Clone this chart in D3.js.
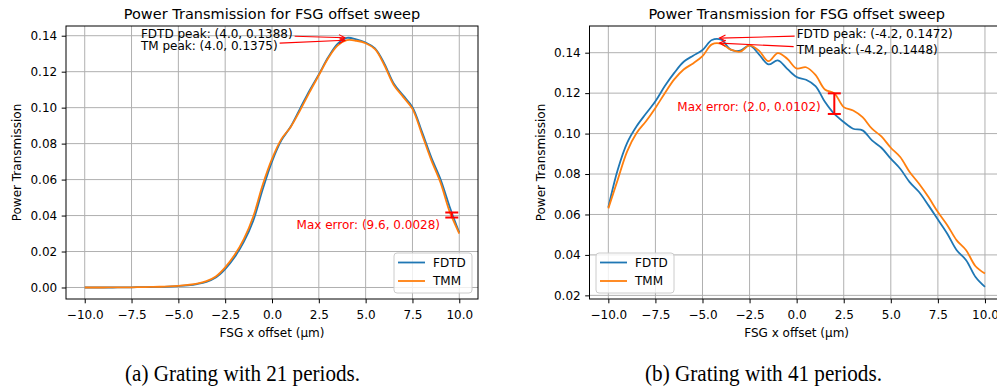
<!DOCTYPE html>
<html>
<head>
<meta charset="utf-8">
<script src="https://cdn.jsdelivr.net/npm/d3@7"></script>
<style>
body { margin: 0; background: #fff; }
svg text { font-family: "DejaVu Sans", sans-serif; }
</style>
</head>
<body>
<script>
// sweep values (x offset in um)
var offsetsA = [-10, -9.5, -9, -8.5, -8, -7.5, -7, -6.5, -6, -5.5, -5, -4.5, -4, -3.5, -3, -2.5, -2, -1.5, -1, -0.5,
                0, 0.5, 1, 1.5, 2, 2.5, 3, 3.5, 4, 4.5, 5, 5.5, 6, 6.5, 7, 7.5, 8, 8.5, 9, 9.5, 10];
var fdtdA = [0.0000, 0.0000, 0.0000, 0.0000, 0.0001, 0.0001, 0.0002, 0.0002, 0.0003, 0.0005,
             0.0008, 0.0012, 0.0019, 0.0031, 0.0055, 0.0102, 0.0168, 0.0255, 0.0372, 0.0545,
             0.0700, 0.0818, 0.0895, 0.0995, 0.1095, 0.1185, 0.1280, 0.1355, 0.1388, 0.1380,
             0.1362, 0.1330, 0.1245, 0.1135, 0.1068, 0.1003, 0.0868, 0.0725, 0.0602, 0.0445, 0.0305];
var tmmA = [0.0000, 0.0000, 0.0000, 0.0001, 0.0001, 0.0001, 0.0002, 0.0003, 0.0004, 0.0006,
            0.0009, 0.0014, 0.0021, 0.0035, 0.0061, 0.0112, 0.0180, 0.0270, 0.0395, 0.0570,
            0.0715, 0.0825, 0.0893, 0.0985, 0.1085, 0.1180, 0.1275, 0.1345, 0.1375, 0.1372,
            0.1358, 0.1325, 0.1236, 0.1126, 0.1060, 0.0993, 0.0854, 0.0710, 0.0583, 0.0418, 0.0300];

var offsetsB = offsetsA;
var fdtdB = [0.0635, 0.0821, 0.0954, 0.1036, 0.1099, 0.1160, 0.1235, 0.1300, 0.1355, 0.1385,
             0.1413, 0.1463, 0.1464, 0.1415, 0.1410, 0.1436, 0.1392, 0.1342, 0.1362, 0.1320,
             0.1280, 0.1266, 0.1235, 0.1157, 0.1097, 0.1057, 0.1024, 0.1016, 0.0966, 0.0930,
             0.0876, 0.0826, 0.0760, 0.0711, 0.0645, 0.0575, 0.0505, 0.0423, 0.0374, 0.0291, 0.0242];
var tmmB = [0.0630, 0.0772, 0.0912, 0.1003, 0.1061, 0.1127, 0.1200, 0.1268, 0.1317, 0.1347,
            0.1383, 0.1441, 0.1444, 0.1415, 0.1405, 0.1436, 0.1410, 0.1358, 0.1398, 0.1370,
            0.1322, 0.1328, 0.1290, 0.1218, 0.1199, 0.1131, 0.1114, 0.1081, 0.1024, 0.0986,
            0.0930, 0.0884, 0.0810, 0.0752, 0.0686, 0.0612, 0.0547, 0.0472, 0.0423, 0.0344, 0.0308];

// peaks [x, fdtd, tmm] and max error [x, fdtd, tmm]
var peakA = [4.0, 0.1388, 0.1375],
    peakB = [-4.2, 0.1472, 0.1448],
    maxErrA = [9.6, 0.0417, 0.0389],
    maxErrB = [2.0, 0.1097, 0.1199];

var xTicks = [-10, -7.5, -5, -2.5, 0, 2.5, 5, 7.5, 10],
    yTicksA = [0, 0.02, 0.04, 0.06, 0.08, 0.10, 0.12, 0.14],
    yTicksB = [0.02, 0.04, 0.06, 0.08, 0.10, 0.12, 0.14];

var seriesNames = ["FDTD", "TMM"],
    seriesColors = ["#1f77b4", "#ff7f0e"];

var titleText = "Power Transmission for FSG offset sweep",
    xLabel = "FSG x offset (\u00b5m)",
    yLabel = "Power Transmission",
    captions = ["(a) Grating with 21 periods.", "(b) Grating with 41 periods."];

// set up canvas
var canvasWidth = 997,
    canvasHeight = 387,
    plotTop = 26,
    plotBottom = 299;

var figure = d3.select("body")
    .append("svg")
        .attr("width", canvasWidth)
        .attr("height", canvasHeight);

function drawPanel(p) {
    var x = d3.scaleLinear().domain([-11, 11]).range([p.left, p.right]);
    var y = d3.scaleLinear().domain(p.yDomain).range([plotBottom, plotTop]);
    var g = figure.append("g");

    // grid
    g.append("g").selectAll("line").data(xTicks).enter().append("line")
        .attr("x1", function(d) { return x(d); }).attr("x2", function(d) { return x(d); })
        .attr("y1", plotTop).attr("y2", plotBottom)
        .attr("stroke", "#b0b0b0").attr("stroke-width", 1);
    g.append("g").selectAll("line").data(p.yTicks).enter().append("line")
        .attr("x1", p.left).attr("x2", p.right)
        .attr("y1", function(d) { return y(d); }).attr("y2", function(d) { return y(d); })
        .attr("stroke", "#b0b0b0").attr("stroke-width", 1);

    // curves
    var line = d3.line()
        .x(function(d) { return x(d[0]); })
        .y(function(d) { return y(d[1]); })
        .curve(d3.curveCatmullRom.alpha(0.5));
    [p.fdtd, p.tmm].forEach(function(vals, i) {
        g.append("path")
            .datum(p.offsets.map(function(o, j) { return [o, vals[j]]; }))
            .attr("d", line)
            .attr("fill", "none")
            .attr("stroke", seriesColors[i])
            .attr("stroke-width", 1.8)
            .attr("stroke-linejoin", "round");
    });

    // max error bar
    var ex = x(p.maxErr[0]);
    g.append("line").attr("x1", ex).attr("x2", ex)
        .attr("y1", y(p.maxErr[1])).attr("y2", y(p.maxErr[2]))
        .attr("stroke", "red").attr("stroke-width", 2);
    [p.maxErr[1], p.maxErr[2]].forEach(function(v) {
        g.append("line").attr("x1", ex - 6.5).attr("x2", ex + 6.5)
            .attr("y1", y(v)).attr("y2", y(v))
            .attr("stroke", "red").attr("stroke-width", 2);
    });
    g.append("text")
        .attr("x", x(p.errText[0])).attr("y", y(p.errText[1]))
        .attr("dy", "0.36em")
        .attr("text-anchor", "end")
        .attr("font-size", 12).attr("fill", "red")
        .text("Max error: (" + p.maxErr[0].toFixed(1) + ", " +
              Math.abs(p.maxErr[2] - p.maxErr[1]).toFixed(4) + ")");

    // peak annotations with arrows
    var labels = [
        ["FDTD peak: ", p.peak[1], p.peak[1]],
        ["TM peak: ", p.peak[2], p.peak[2] - 0.0055]
    ];
    labels.forEach(function(l) {
        var t = g.append("text")
            .attr("x", x(p.peakTextX)).attr("y", y(l[2]))
            .attr("font-size", 12).attr("fill", "#000")
            .text(l[0] + "(" + p.peak[0].toFixed(1) + ", " + l[1].toFixed(4) + ")");
        var b = t.node().getBBox();
        var cx = b.x + b.width / 2, cy = b.y + b.height / 2;
        var tx = x(p.peak[0]), ty = y(l[1]);
        var dx = tx - cx, dy = ty - cy;
        var s = Math.min((b.width / 2 + 2) / Math.abs(dx), (b.height / 2 + 2) / Math.abs(dy));
        var sx = cx + dx * s, sy = cy + dy * s;
        var len = Math.sqrt((tx - sx) * (tx - sx) + (ty - sy) * (ty - sy));
        var ux = (tx - sx) / len, uy = (ty - sy) / len;
        var endX = tx - ux * 2, endY = ty - uy * 2;
        g.append("line").attr("x1", sx).attr("y1", sy).attr("x2", endX).attr("y2", endY)
            .attr("stroke", "red").attr("stroke-width", 1.1);
        var hx = endX - ux * 6, hy = endY - uy * 6;
        g.append("path")
            .attr("d", "M" + (hx - uy * 3) + "," + (hy + ux * 3) + "L" + endX + "," + endY +
                       "L" + (hx + uy * 3) + "," + (hy - ux * 3))
            .attr("fill", "none").attr("stroke", "red").attr("stroke-width", 1.1);
    });

    // axes
    var xAxis = g.append("g")
        .attr("transform", "translate(0," + plotBottom + ")")
        .call(d3.axisBottom(x).tickValues(xTicks).tickSize(4.3).tickSizeOuter(0).tickPadding(7.5)
            .tickFormat(d3.format(".1f")));
    var yAxis = g.append("g")
        .attr("transform", "translate(" + p.left + ",0)")
        .call(d3.axisLeft(y).tickValues(p.yTicks).tickSize(4.3).tickSizeOuter(0).tickPadding(4.5)
            .tickFormat(d3.format(".2f")));
    [xAxis, yAxis].forEach(function(a) {
        a.select(".domain").remove();
        a.attr("font-family", null).attr("font-size", 12);
        a.selectAll("text").attr("fill", "#000");
        a.selectAll("line").attr("stroke", "#000").attr("stroke-width", 1);
    });

    // spines
    g.append("rect")
        .attr("x", p.left).attr("y", plotTop)
        .attr("width", p.right - p.left).attr("height", plotBottom - plotTop)
        .attr("fill", "none").attr("stroke", "#000").attr("stroke-width", 1);

    // legend
    var lg = g.append("g").attr("transform", "translate(" + p.legendX + "," + (plotBottom - 46) + ")");
    lg.append("rect")
        .attr("width", 78).attr("height", 40).attr("rx", 3)
        .attr("fill", "#fff").attr("fill-opacity", 0.8)
        .attr("stroke", "#cccccc").attr("stroke-width", 1);
    seriesNames.forEach(function(n, i) {
        var ly = 9.5 + i * 18.5;
        lg.append("line").attr("x1", 4).attr("x2", 31).attr("y1", ly).attr("y2", ly)
            .attr("stroke", seriesColors[i]).attr("stroke-width", 1.8);
        lg.append("text").attr("x", 39).attr("y", ly).attr("dy", "0.36em")
            .attr("font-size", 12).attr("fill", "#000").text(n);
    });

    // titles and labels
    var cxPlot = (p.left + p.right) / 2;
    g.append("text").attr("x", cxPlot).attr("y", 19)
        .attr("text-anchor", "middle").attr("font-size", 14.5).attr("fill", "#000")
        .text(titleText);
    g.append("text").attr("x", cxPlot).attr("y", 336.5)
        .attr("text-anchor", "middle").attr("font-size", 12).attr("fill", "#000")
        .text(xLabel);
    g.append("text")
        .attr("transform", "translate(" + (p.left - 49) + "," + ((plotTop + plotBottom) / 2) + ") rotate(-90)")
        .attr("text-anchor", "middle").attr("dy", "0.36em")
        .attr("font-size", 12).attr("fill", "#000")
        .text(yLabel);

    // caption
    figure.append("text")
        .attr("x", p.captionX).attr("y", 381)
        .attr("text-anchor", "middle")
        .style("font-family", "'Liberation Serif', 'Times New Roman', serif")
        .attr("font-size", 23)
        .attr("textLength", p.captionWidth).attr("lengthAdjust", "spacingAndGlyphs")
        .attr("fill", "#000")
        .text(p.caption);
}

drawPanel({
    left: 66, right: 478, yDomain: [-0.0064, 0.1454], yTicks: yTicksA,
    offsets: offsetsA, fdtd: fdtdA, tmm: tmmA,
    peak: peakA, peakTextX: -7.0,
    maxErr: maxErrA, errText: [8.97, 0.0350],
    legendX: 478 - 84,
    caption: captions[0], captionX: 242.5, captionWidth: 235
});

drawPanel({
    left: 589.5, right: 1003.8, yDomain: [0.0182, 0.1532], yTicks: yTicksB,
    offsets: offsetsB, fdtd: fdtdB, tmm: tmmB,
    peak: peakB, peakTextX: 0.0,
    maxErr: maxErrB, errText: [1.28, 0.1133],
    legendX: 589.5 + 6.5,
    caption: captions[1], captionX: 763.5, captionWidth: 237
});
</script>
</body>
</html>
